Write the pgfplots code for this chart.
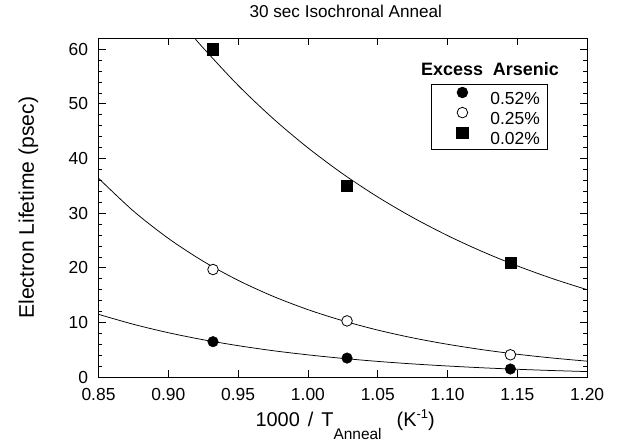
\documentclass[border=0pt]{standalone}
\usepackage{fontspec}
\setmainfont{Liberation Sans}
\usepackage{pgfplots}
\pgfplotsset{compat=1.18}

% anneal temperatures 800, 700, 600 C  ->  1000/T = 0.932, 1.028, 1.145
\newcommand{\subtxt}[1]{\raisebox{-12.5bp}{\fontsize{15.5}{17}\selectfont #1}}
\newcommand{\suptxt}[1]{\raisebox{8bp}{\fontsize{13}{15}\selectfont #1}}
\begin{document}
\begin{tikzpicture}
\path[use as bounding box] (-98.5bp,-65.8bp) rectangle (518.5bp,377.2bp);
\begin{axis}[
  at={(0,0)}, anchor=south west,
  scale only axis, width=488.7bp, height=338.9bp,
  xmin=0.85, xmax=1.20, ymin=0, ymax=62,
  xtick={0.85,0.90,0.95,1.00,1.05,1.10,1.15,1.20},
  ytick={0,10,20,30,40,50,60},
  minor y tick num=4,
  tick align=inside,
  major tick length=7bp, minor tick length=4bp,
  tick style={black, line width=0.8bp},
  axis line style={line width=0.9bp},
  /pgf/number format/assume math mode=true,
  tick label style={font=\fontsize{17.5}{20}\selectfont},
  xticklabel style={/pgf/number format/.cd, fixed, fixed zerofill, precision=2, /tikz/.cd, yshift=-8bp},
  yticklabel style={xshift=-7bp},
  title={30 sec Isochronal Anneal},
  title style={at={(axis description cs:0.506,1)}, anchor=base, yshift=15bp, font=\fontsize{17.2}{20}\selectfont},
  xlabel={1000\hspace{8bp}/\hspace{8bp}T\subtxt{Anneal}\hspace{15bp}(K\suptxt{-1})},
  xlabel style={at={(axis description cs:0.3141,0)}, anchor=base west, yshift=-49.5bp, font=\fontsize{20}{22}\selectfont},
  ylabel={Electron Lifetime (psec)},
  ylabel style={at={(axis description cs:-0.1436,0.5)}, anchor=center, font=\fontsize{21.2}{24}\selectfont},
  legend cell align=left,
  legend image code/.code={%
    \path[draw=none, fill=none] (-23.5bp,0bp) rectangle (28bp,12bp);
    \draw[#1] plot coordinates {(0bp,6.2bp)};
  },
  legend style={at={(rel axis cs:0.6794,0.8643)}, anchor=north west,
    draw=black, line width=0.8bp, inner xsep=8bp, inner ysep=2bp,
    column sep=0pt, row sep=0pt,
    font=\fontsize{17.5}{20}\selectfont,
    nodes={inner xsep=0pt, inner ysep=1.6bp, text height=12.6bp, text depth=0.4bp}},
]
% fitted lifetime curves
\addplot[black, line width=0.75bp, smooth, forget plot] coordinates {
  (0.919,62.00) (0.925,60.23) (0.950,53.39) (0.975,47.33) (1.000,41.96)
  (1.025,37.19) (1.050,32.97) (1.075,29.23) (1.100,25.91) (1.125,22.97)
  (1.150,20.36) (1.175,18.05) (1.200,16.00)};
\addplot[black, line width=0.75bp, smooth, forget plot] coordinates {
  (0.850,36.40) (0.875,30.40) (0.900,25.40) (0.925,21.21) (0.950,17.72)
  (0.975,14.80) (1.000,12.36) (1.025,10.33) (1.050,8.62) (1.075,7.20)
  (1.100,6.02) (1.125,5.03) (1.150,4.20) (1.175,3.51) (1.200,2.93)};
\addplot[black, line width=0.75bp, smooth, forget plot] coordinates {
  (0.850,11.50) (0.875,9.68) (0.900,8.14) (0.925,6.85) (0.950,5.77)
  (0.975,4.85) (1.000,4.09) (1.025,3.44) (1.050,2.89) (1.075,2.43)
  (1.100,2.05) (1.125,1.72) (1.150,1.45) (1.175,1.22) (1.200,1.03)};
% measured points
\addplot[only marks, mark=*, mark size=5.3bp, draw=black, fill=black] coordinates {
  (0.932,6.5) (1.028,3.5) (1.145,1.5)};
\addlegendentry{0.52\%}
\addplot[only marks, mark=*, mark size=5.3bp, draw=black, fill=white, line width=0.8bp] coordinates {
  (0.932,19.7) (1.028,10.3) (1.145,4.1)};
\addlegendentry{0.25\%}
\addplot[only marks, mark=square*, mark size=5.6bp, draw=black, fill=black] coordinates {
  (0.932,60.0) (1.028,35.0) (1.145,21.0)};
\addlegendentry{0.02\%}
\end{axis}
\node[anchor=base, font=\bfseries\fontsize{18}{20}\selectfont] at (391.5bp,301.5bp) {Excess~~Arsenic};
\end{tikzpicture}
\end{document}
